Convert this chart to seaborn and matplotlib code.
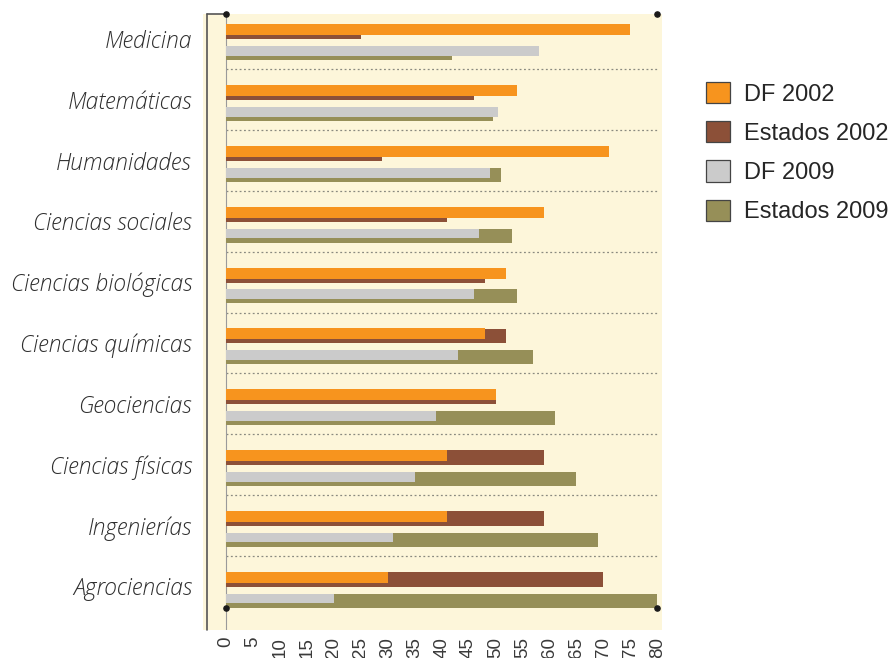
import numpy as np
import pandas as pd
import matplotlib
matplotlib.use("Agg")
import matplotlib.pyplot as plt
from matplotlib.patches import Patch
import seaborn as sns

# Share of researchers by field (percent)
categories = ["Medicina", "Matemáticas", "Humanidades", "Ciencias sociales",
              "Ciencias biológicas", "Ciencias químicas", "Geociencias",
              "Ciencias físicas", "Ingenierías", "Agrociencias"]
df_2002 = [75, 54, 71, 59, 52, 48, 50, 41, 41, 30]
estados_2002 = [25, 46, 29, 41, 48, 52, 50, 59, 59, 70]
df_2009 = [58, 50.5, 49, 47, 46, 43, 39, 35, 31, 20]
estados_2009 = [42, 49.5, 51, 53, 54, 57, 61, 65, 69, 80]
series_names = ["DF 2002", "Estados 2002", "DF 2009", "Estados 2009"]
x_ticks = list(range(0, 85, 5))

colors = {"DF 2002": "#F7941E", "Estados 2002": "#8C5038",
          "DF 2009": "#CBCBCB", "Estados 2009": "#968F58"}

sns.set_theme(style="white")
plt.rcParams["font.family"] = ["Liberation Sans", "DejaVu Sans"]

fig = plt.figure(figsize=(8.94, 6.58), dpi=100)
ax = fig.add_axes([203 / 894, 28 / 658, 459 / 894, 616 / 658])
ax.set_facecolor("#FDF6DA")

idx = np.arange(len(categories))

# (values, row offset from category centre, bar thickness)
layers = [
    (estados_2002, -0.115, 0.245, "Estados 2002"),
    (df_2002, -0.15, 0.18, "DF 2002"),
    (estados_2009, 0.235, 0.23, "Estados 2009"),
    (df_2009, 0.20, 0.16, "DF 2009"),
]
for vals, off, thick, name in layers:
    d = pd.DataFrame({"valor": vals, "pos": idx + off})
    sns.barplot(data=d, x="valor", y="pos", orient="y", native_scale=True,
                width=thick, color=colors[name], saturation=1,
                errorbar=None, linewidth=0, ax=ax)

# dotted separators between fields
for b in idx[:-1] + 0.5:
    ax.plot([0, 80], [b, b], ls=(0, (1.5, 2)), color="#8A8A80", lw=0.9, zorder=0.5)

y_top = -0.41
y_bot = 0.72 + idx[-1]
x_left = -4.3
x_right = 80.9
ax.set_xlim(x_left, x_right)
ax.set_ylim(y_bot, y_top)

# frame lines and corner markers
ax.axvline(0, color="#9A9A9A", lw=0.8, zorder=0.6)
ax.plot([-3.5, -3.5], [y_top, y_bot], color="#555555", lw=1.2, clip_on=False, zorder=3)
ax.plot([-3.5, 0], [y_top + 0.005, y_top + 0.005], color="#555555", lw=1.2, clip_on=False, zorder=3)
ax.scatter([0, 80, 0, 80], [y_top + 0.005, y_top + 0.005, idx[-1] + 0.35, idx[-1] + 0.35],
           s=14, color="#1A1A1A", zorder=5, clip_on=False)

for s in ax.spines.values():
    s.set_visible(False)

ax.set_xticks(x_ticks)
ax.set_xticklabels([str(t) for t in x_ticks], rotation=90, fontsize=13.5, color="#3A3A3A")
ax.set_yticks(idx)
ax.set_yticklabels(categories, fontsize=16.5, style="italic", weight="light", color="#2E2E2E",
                   family=["Open Sans", "DejaVu Sans"])
ax.tick_params(axis="x", length=0, pad=5)
ax.tick_params(axis="y", length=0, pad=8)
ax.set_xlabel("")
ax.set_ylabel("")

handles = [Patch(facecolor=colors[n], edgecolor="#444444", linewidth=0.9) for n in series_names]
fig.legend(handles, series_names, loc="upper left", bbox_to_anchor=(706 / 894, 1 - 82 / 658),
           frameon=False, fontsize=17, handlelength=1.0, handleheight=1.0,
           handletextpad=0.62, labelspacing=0.66, borderpad=0, borderaxespad=0)

fig.savefig("out.png", dpi=100)
